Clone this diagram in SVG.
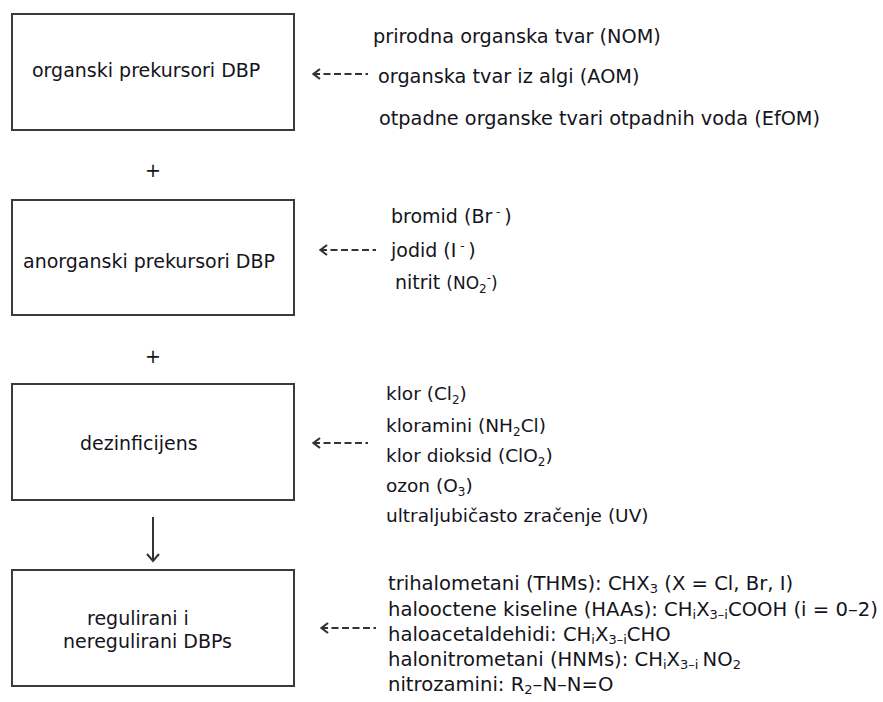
<svg xmlns="http://www.w3.org/2000/svg" width="883" height="702" viewBox="0 0 883 702">
<defs>
<style>
.box{fill:#fff;stroke:#3a3a3a;stroke-width:2}
.t{font-family:"DejaVu Sans","Liberation Sans",sans-serif;font-size:19px;fill:#141420}
.s1{font-size:19.3px}
.s3{font-size:18.5px}
.s4{font-size:19.6px}
.sub{font-size:12px}
.sub4{font-size:13px}
.dash{stroke:#333;stroke-width:2.2;stroke-dasharray:7 3.5;fill:none}
.arr{stroke:#333;stroke-width:2;fill:none}
</style>
<marker id="chev" viewBox="0 0 10 12" refX="1" refY="6" markerWidth="10" markerHeight="12" markerUnits="userSpaceOnUse" orient="auto">
<polyline points="8,1 1.5,6 8,11" fill="none" stroke="#333" stroke-width="2.2"/>
</marker>
</defs>
<rect width="883" height="702" fill="#fff"/>

<g id="node-organski">
<rect class="box" x="12" y="14" width="282" height="116"/>
<text class="t" x="32" y="77">organski prekursori DBP</text>
</g>
<g id="node-anorganski">
<rect class="box" x="12" y="200" width="282" height="115"/>
<text class="t" x="23" y="268">anorganski prekursori DBP</text>
</g>
<g id="node-dezinficijens">
<rect class="box" x="12" y="384" width="282" height="116"/>
<text class="t" x="80" y="450">dezinficijens</text>
</g>
<g id="node-dbps">
<rect class="box" x="12" y="570" width="282" height="116"/>
<text class="t" x="87" y="625">regulirani i</text>
<text class="t" x="63" y="648">neregulirani DBPs</text>
</g>

<g id="plus-signs">
<text class="t" x="153" y="177" text-anchor="middle">+</text>
<text class="t" x="153" y="363" text-anchor="middle">+</text>
</g>

<g id="src-organski">
<text class="t s1" x="373" y="43">prirodna organska tvar (NOM)</text>
<text class="t s1" x="378" y="83">organska tvar iz algi (AOM)</text>
<text class="t s1" x="379" y="125">otpadne organske tvari otpadnih voda (EfOM)</text>
</g>
<g id="src-anorganski">
<text class="t" x="391" y="223">bromid (Br<tspan class="sub" dy="-7"> - </tspan><tspan dy="7">)</tspan></text>
<text class="t" x="391" y="257">jodid (I<tspan class="sub" dy="-7"> - </tspan><tspan dy="7">)</tspan></text>
<text class="t" x="395" y="289">nitrit <tspan font-size="17">(NO<tspan class="sub" dy="4">2</tspan><tspan class="sub" dy="-11">-</tspan><tspan dy="7">)</tspan></tspan></text>
</g>
<g id="src-dezinficijens">
<text class="t s3" x="386" y="400">klor (Cl<tspan class="sub" dy="4">2</tspan><tspan dy="-4">)</tspan></text>
<text class="t s3" x="386" y="432">kloramini (NH<tspan class="sub" dy="4">2</tspan><tspan dy="-4">Cl)</tspan></text>
<text class="t s3" x="386" y="462">klor dioksid (ClO<tspan class="sub" dy="4">2</tspan><tspan dy="-4">)</tspan></text>
<text class="t s3" x="386" y="492">ozon (O<tspan class="sub" dy="4">3</tspan><tspan dy="-4">)</tspan></text>
<text class="t s3" x="386" y="522">ultraljubičasto zračenje (UV)</text>
</g>
<g id="src-dbps">
<text class="t s4" x="388" y="590">trihalometani (THMs): CHX<tspan class="sub4" dy="3">3</tspan><tspan dy="-3"> (X = Cl, Br, I)</tspan></text>
<text class="t s4" x="388" y="616">halooctene kiseline (HAAs): CH<tspan class="sub4" dy="3">i</tspan><tspan dy="-3">X</tspan><tspan class="sub4" dy="3">3–i</tspan><tspan dy="-3">COOH (i = 0–2)</tspan></text>
<text class="t s4" x="388" y="641">haloacetaldehidi: CH<tspan class="sub4" dy="3">i</tspan><tspan dy="-3">X</tspan><tspan class="sub4" dy="3">3–i</tspan><tspan dy="-3">CHO</tspan></text>
<text class="t s4" x="388" y="666">halonitrometani (HNMs): CH<tspan class="sub4" dy="3">i</tspan><tspan dy="-3">X</tspan><tspan class="sub4" dy="3">3–i </tspan><tspan dy="-3">NO</tspan><tspan class="sub4" dy="3">2</tspan></text>
<text class="t s4" x="388" y="691">nitrozamini: R<tspan class="sub4" dy="3">2</tspan><tspan dy="-3">–N–N=O</tspan></text>
</g>

<g id="connectors">
<line class="dash" x1="313" y1="74" x2="368" y2="74" marker-start="url(#chev)"/>
<line class="dash" x1="320" y1="250" x2="376" y2="250" marker-start="url(#chev)"/>
<line class="dash" x1="313" y1="443" x2="368" y2="443" marker-start="url(#chev)"/>
<line class="dash" x1="321" y1="628" x2="376" y2="628" marker-start="url(#chev)"/>
<line class="arr" x1="153" y1="517" x2="153" y2="561"/>
<polyline class="arr" points="147,554 153,561 159,554"/>
</g>
</svg>
